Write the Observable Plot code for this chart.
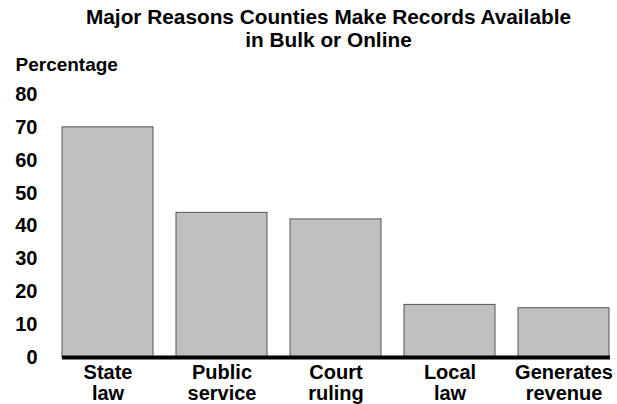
<!DOCTYPE html>
<html>
<head>
<meta charset="utf-8">
<script src="https://cdn.jsdelivr.net/npm/d3@7"></script>
<script src="https://cdn.jsdelivr.net/npm/@observablehq/plot@0.6"></script>
<style>
  html, body { margin: 0; padding: 0; background: #fff; }
  svg { font-family: "Liberation Sans", Arial, Helvetica, sans-serif; }
</style>
</head>
<body>
<div id="chart"></div>
<script>
const categories = ["State law", "Public service", "Court ruling", "Local law", "Generates revenue"];
const categoryLabels = ["State\nlaw", "Public\nservice", "Court\nruling", "Local\nlaw", "Generates\nrevenue"];
const values = [70, 44, 42, 16, 15];
const yTicks = [0, 10, 20, 30, 40, 50, 60, 70, 80];
const titleText = "Major Reasons Counties Make Records Available\nin Bulk or Online";
const yLabel = "Percentage";

const data = categories.map((c, i) => ({category: c, label: categoryLabels[i], value: values[i]}));

const chart = Plot.plot({
  width: 617,
  height: 404,
  marginTop: 94,
  marginBottom: 47,
  marginLeft: 62,
  marginRight: 7,
  style: {fontFamily: '"Liberation Sans", Arial, Helvetica, sans-serif', background: "#fff", color: "#000"},
  x: {domain: categories, paddingInner: 0.2, paddingOuter: 0, axis: null},
  y: {domain: [0, 80], axis: null},
  marks: [
    Plot.barY(data, {x: "category", y: "value", fill: "#c0c0c0", stroke: "#555", strokeWidth: 1}),
    Plot.ruleY([0], {stroke: "#000", strokeWidth: 4}),
    Plot.axisY(yTicks, {tickSize: 0, tickPadding: 25, fontSize: 20, fontWeight: "bold", fill: "#000", label: null}),
    Plot.text(data, {x: "category", text: "label", frameAnchor: "bottom", lineAnchor: "top", dy: 7, fontSize: 20, fontWeight: "bold", fill: "#000", lineHeight: 1.05}),
    Plot.text([titleText], {text: d => d, frameAnchor: "top", lineAnchor: "top", dx: -8, dy: -87, fontSize: 20.8, fontWeight: "bold", fill: "#000", lineHeight: 1.12}),
    Plot.text([yLabel], {text: d => d, frameAnchor: "top-left", textAnchor: "start", lineAnchor: "middle", dx: -47, dy: -30, fontSize: 19, fontWeight: "bold", fill: "#000"})
  ]
});
document.getElementById("chart").appendChild(chart);
</script>
</body>
</html>
